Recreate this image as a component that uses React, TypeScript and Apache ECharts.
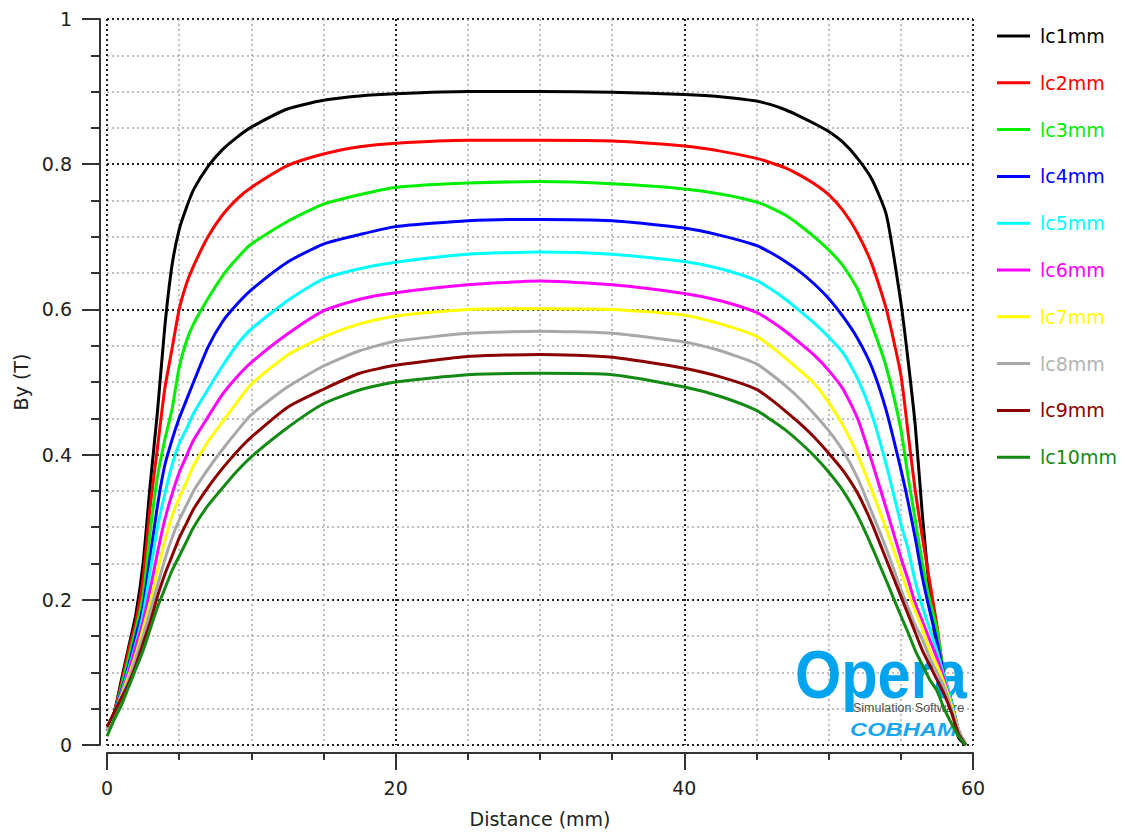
import React, { useEffect, useRef } from "react";
import * as echarts from "echarts";

const distance = [0, 0.5, 1, 1.5, 2, 2.5, 3, 3.5, 4, 4.5, 5, 5.5, 6, 7, 8, 9, 10, 12.5, 15, 17.5, 20, 25, 30, 35, 40, 42.5, 45, 46, 47, 48, 49, 50, 51, 52, 53, 54, 55, 55.5, 56, 56.5, 57, 57.5, 58, 58.5, 59, 59.5];

const lc1mm = [0.02, 0.045, 0.09, 0.135, 0.18, 0.25, 0.36, 0.46, 0.575, 0.66, 0.71, 0.74, 0.765, 0.797, 0.82, 0.837, 0.851, 0.876, 0.888, 0.894, 0.897, 0.9, 0.9, 0.899, 0.896, 0.893, 0.887, 0.882, 0.875, 0.866, 0.856, 0.845, 0.83, 0.808, 0.779, 0.73, 0.61, 0.53, 0.44, 0.315, 0.21, 0.13, 0.085, 0.055, 0.01, 0.0];
const lc2mm = [0.02, 0.045, 0.085, 0.13, 0.17, 0.23, 0.33, 0.41, 0.49, 0.545, 0.6, 0.635, 0.66, 0.7, 0.73, 0.752, 0.768, 0.798, 0.814, 0.824, 0.829, 0.833, 0.833, 0.832, 0.825, 0.818, 0.808, 0.802, 0.795, 0.785, 0.773, 0.758, 0.736, 0.705, 0.662, 0.6, 0.51, 0.43, 0.35, 0.285, 0.225, 0.165, 0.095, 0.06, 0.02, 0.0];
const lc3mm = [0.02, 0.043, 0.08, 0.12, 0.16, 0.205, 0.295, 0.37, 0.42, 0.462, 0.52, 0.556, 0.58, 0.615, 0.646, 0.67, 0.69, 0.721, 0.745, 0.758, 0.768, 0.774, 0.776, 0.773, 0.766, 0.759, 0.748, 0.74, 0.73, 0.716, 0.7, 0.682, 0.66, 0.628, 0.578, 0.52, 0.435, 0.37, 0.31, 0.25, 0.2, 0.16, 0.095, 0.06, 0.02, 0.0];
const lc4mm = [0.02, 0.042, 0.075, 0.11, 0.15, 0.19, 0.26, 0.33, 0.385, 0.42, 0.45, 0.475, 0.5, 0.548, 0.583, 0.607, 0.627, 0.665, 0.69, 0.703, 0.714, 0.722, 0.724, 0.722, 0.712, 0.702, 0.688, 0.678, 0.666, 0.652, 0.635, 0.615, 0.59, 0.56, 0.52, 0.46, 0.38, 0.335, 0.285, 0.23, 0.185, 0.144, 0.095, 0.06, 0.02, 0.0];
const lc5mm = [0.02, 0.042, 0.072, 0.105, 0.14, 0.18, 0.24, 0.3, 0.345, 0.385, 0.415, 0.435, 0.457, 0.49, 0.522, 0.551, 0.573, 0.612, 0.642, 0.656, 0.665, 0.676, 0.679, 0.676, 0.666, 0.656, 0.64, 0.628, 0.614, 0.598, 0.581, 0.562, 0.54, 0.505, 0.455, 0.385, 0.305, 0.27, 0.225, 0.19, 0.16, 0.13, 0.095, 0.06, 0.02, 0.0];
const lc6mm = [0.02, 0.04, 0.07, 0.1, 0.135, 0.17, 0.215, 0.265, 0.31, 0.345, 0.375, 0.398, 0.42, 0.452, 0.483, 0.507, 0.527, 0.566, 0.598, 0.614, 0.623, 0.634, 0.639, 0.634, 0.622, 0.612, 0.596, 0.584, 0.57, 0.554, 0.537, 0.516, 0.49, 0.45, 0.39, 0.325, 0.258, 0.228, 0.195, 0.17, 0.145, 0.12, 0.09, 0.055, 0.02, 0.0];
const lc7mm = [0.02, 0.04, 0.068, 0.095, 0.125, 0.16, 0.197, 0.24, 0.28, 0.315, 0.34, 0.362, 0.385, 0.418, 0.445, 0.472, 0.497, 0.537, 0.562, 0.58, 0.591, 0.6, 0.601, 0.6, 0.592, 0.58, 0.563, 0.549, 0.533, 0.516, 0.498, 0.472, 0.44, 0.4, 0.35, 0.297, 0.24, 0.21, 0.185, 0.16, 0.13, 0.11, 0.085, 0.055, 0.02, 0.0];
const lc8mm = [0.02, 0.04, 0.065, 0.09, 0.12, 0.15, 0.185, 0.22, 0.255, 0.285, 0.31, 0.33, 0.35, 0.38, 0.407, 0.432, 0.455, 0.493, 0.522, 0.543, 0.556, 0.567, 0.57, 0.567, 0.555, 0.543, 0.525, 0.511, 0.495, 0.477, 0.456, 0.433, 0.405, 0.368, 0.32, 0.27, 0.215, 0.19, 0.165, 0.145, 0.12, 0.1, 0.08, 0.05, 0.02, 0.0];
const lc9mm = [0.025, 0.045, 0.065, 0.085, 0.11, 0.14, 0.17, 0.205, 0.235, 0.26, 0.285, 0.305, 0.325, 0.355, 0.381, 0.404, 0.424, 0.465, 0.49, 0.512, 0.523, 0.535, 0.538, 0.534, 0.519, 0.507, 0.49, 0.476, 0.46, 0.443, 0.424, 0.402, 0.378, 0.347, 0.305, 0.255, 0.205, 0.18, 0.155, 0.13, 0.11, 0.09, 0.07, 0.045, 0.015, 0.0];
const lc10mm = [0.012, 0.035, 0.055, 0.08, 0.105, 0.13, 0.16, 0.19, 0.215, 0.24, 0.26, 0.28, 0.3, 0.33, 0.354, 0.377, 0.397, 0.437, 0.47, 0.489, 0.5, 0.51, 0.512, 0.51, 0.493, 0.48, 0.461, 0.448, 0.434, 0.417, 0.398, 0.376, 0.35, 0.316, 0.273, 0.226, 0.178, 0.155, 0.13, 0.11, 0.09, 0.075, 0.05, 0.03, 0.012, 0.0];

const seriesNames = ["lc1mm", "lc2mm", "lc3mm", "lc4mm", "lc5mm", "lc6mm", "lc7mm", "lc8mm", "lc9mm", "lc10mm"];
const seriesValues = [lc1mm, lc2mm, lc3mm, lc4mm, lc5mm, lc6mm, lc7mm, lc8mm, lc9mm, lc10mm];
const seriesColors = ["#000000", "#ff0000", "#00ee00", "#0000ff", "#00ffff", "#ff00ff", "#ffff00", "#a8a8a8", "#8b0000", "#138a13"];
const legendTextColors = ["#000000", "#ff0000", "#00ee00", "#0000ff", "#00ffff", "#ff00ff", "#ffff00", "#b4b4b4", "#8b0000", "#138a13"];

const FONT = "'DejaVu Sans', Verdana, sans-serif";

export default function App() {
  const ref = useRef<HTMLDivElement>(null);
  useEffect(() => {
    if (!ref.current) return;
    const chart = echarts.init(ref.current, null, { renderer: "svg" });
    const option: any = {
      animation: false,
      backgroundColor: "#ffffff",
      textStyle: { fontFamily: FONT },
      grid: { left: 107, top: 19, right: 156, bottom: 91, containLabel: false },
      legend: {
        orient: "vertical",
        left: 997,
        top: 25,
        padding: 0,
        itemGap: 24.8,
        itemWidth: 33,
        itemHeight: 3,
        icon: "rect",
        selectedMode: false,
        textStyle: { fontSize: 19, lineHeight: 22, fontFamily: FONT, padding: [0, 0, 0, 5] },
        data: seriesNames.map((n, i) => ({ name: n, textStyle: { color: legendTextColors[i] } })),
      },
      xAxis: {
        type: "value",
        min: 0,
        max: 60,
        interval: 20,
        offset: 8,
        name: "Distance (mm)",
        nameLocation: "middle",
        nameGap: 56,
        nameTextStyle: { fontSize: 19, color: "#222", fontFamily: FONT },
        axisLine: { show: true, onZero: false, lineStyle: { color: "#333", width: 2 } },
        axisTick: { show: true, length: 17, lineStyle: { color: "#333", width: 2 } },
        minorTick: { show: true, splitNumber: 4, length: 7, lineStyle: { color: "#333", width: 2 } },
        axisLabel: { fontSize: 19, color: "#222", margin: 25, fontFamily: FONT },
        splitLine: { show: true, lineStyle: { color: "#222", width: 2, type: [2, 3] } },
        minorSplitLine: { show: true, lineStyle: { color: "#aaaaaa", width: 1.5, type: [2, 3] } },
      },
      yAxis: {
        type: "value",
        min: 0,
        max: 1,
        interval: 0.2,
        offset: 7,
        name: "By (T)",
        nameLocation: "middle",
        nameGap: 67,
        nameRotate: 90,
        nameTextStyle: { fontSize: 19, color: "#222", fontFamily: FONT },
        axisLine: { show: true, onZero: false, lineStyle: { color: "#333", width: 2 } },
        axisTick: { show: true, length: 18, lineStyle: { color: "#333", width: 2 } },
        minorTick: { show: true, splitNumber: 4, length: 9, lineStyle: { color: "#333", width: 2 } },
        axisLabel: { fontSize: 19, color: "#222", margin: 28, fontFamily: FONT },
        splitLine: { show: true, lineStyle: { color: "#222", width: 2, type: [2, 3] } },
        minorSplitLine: { show: true, lineStyle: { color: "#aaaaaa", width: 1.5, type: [2, 3] } },
      },
      graphic: [
        {
          type: "text",
          z: 1,
          left: 795,
          top: 641,
          scaleX: 0.875,
          style: {
            text: "Opera",
            fontSize: 68,
            fontWeight: "bold",
            fontFamily: "'Liberation Sans', Arial, sans-serif",
            fill: "#00a3ee",
          },
        },
        {
          type: "text",
          z: 1,
          left: 853,
          top: 701,
          style: {
            text: "Simulation Software",
            fontSize: 12.5,
            fontFamily: "'Liberation Sans', Arial, sans-serif",
            fill: "#505050",
          },
        },
        {
          type: "text",
          z: 1,
          left: 850,
          top: 720,
          scaleX: 1.25,
          style: {
            text: "COBHAM",
            fontSize: 19,
            fontWeight: "bold",
            fontStyle: "italic",
            fontFamily: "'Liberation Sans', Arial, sans-serif",
            fill: "#1aa6ec",
          },
        },
      ],
      series: seriesNames.map((n, i) => ({
        name: n,
        type: "line",
        showSymbol: false,
        symbol: "none",
        smooth: 0.2,
        z: 3,
        lineStyle: { color: seriesColors[i], width: 3 },
        itemStyle: { color: seriesColors[i] },
        data: distance.map((x, k) => [x, seriesValues[i][k]]),
      })),
    };
    chart.setOption(option);
    return () => chart.dispose();
  }, []);
  return (
    <div
      ref={ref}
      style={{ position: "fixed", left: 0, top: 0, width: 1129, height: 836, background: "#fff" }}
    />
  );
}
